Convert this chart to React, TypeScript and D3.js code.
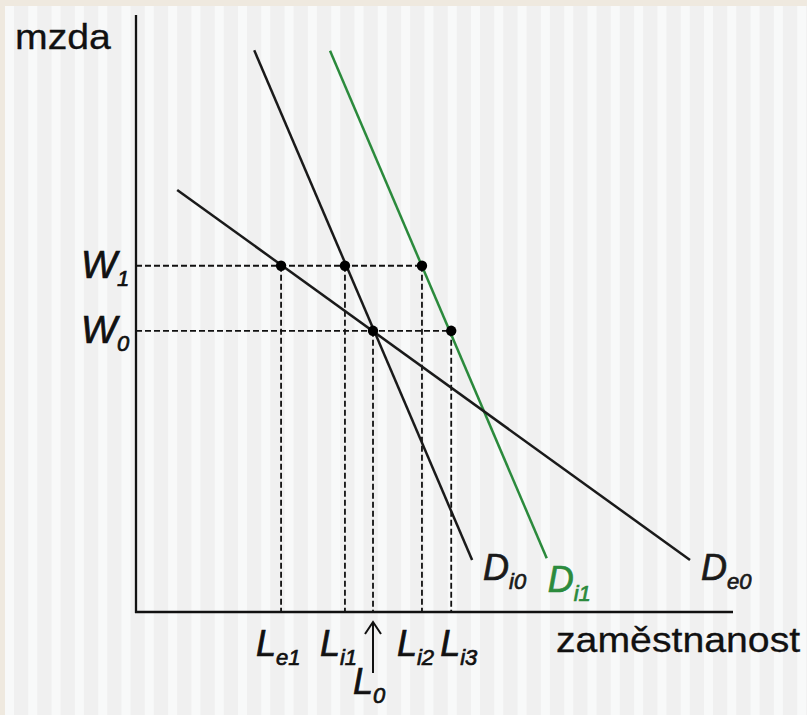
import React from "react";
import * as d3 from "d3";

// ---- data (in chart units: employment 0..100, wage 0..100) ----
const curveNames = ["Di0", "Di1", "De0"];
const curveStartL = [19.8, 32.5, 6.9];
const curveStartW = [94.1, 94.0, 70.7];
const curveEndL = [56.3, 68.8, 92.8];
const curveEndW = [8.7, 9.0, 8.7];

const wageNames = ["1", "0"];
const wageValues = [58.0, 47.1];

const pointNames = ["e1", "i1", "i2", "0", "i3"];
const pointL = [24.3, 35.0, 47.9, 39.7, 52.8];
const pointWageIdx = [0, 0, 0, 1, 1];

const axisTitleY = "mzda";
const axisTitleX = "zaměstnanost";

const W = 807;
const H = 715;
const FONT = "'Liberation Sans', Arial, sans-serif";
const GREEN = "#2b8a3c";

export default function App() {
  const x = d3.scaleLinear().domain([0, 100]).range([136, 733]);
  const y = d3.scaleLinear().domain([0, 100]).range([612, 15]);

  const stripes = d3.range(0, 40).map((i) => 5 + i * 23.3);

  const line = d3
    .line<[number, number]>()
    .x((d) => x(d[0]))
    .y((d) => y(d[1]));

  const curveColors = ["#1a1a1a", GREEN, "#1a1a1a"];
  const curveLabelDx = [11, 1, 11];
  const curveLabelDy = [20, 34, 20];

  const maxLForWage = wageValues.map((_, wi) =>
    d3.max(pointL.filter((_, i) => pointWageIdx[i] === wi)) as number
  );

  const labelDx = [-25, -25, -25, -20, -11];
  const labelDy = [0, 0, 0, 38, 0];

  const italicProps = (color: string) => ({
    fontSize: 36,
    fontStyle: "italic" as const,
    fill: color,
    stroke: color,
    strokeWidth: 0.7,
  });

  return (
    <svg
      width={W}
      height={H}
      style={{ position: "absolute", left: 0, top: 0, display: "block" }}
      fontFamily={FONT}
    >
      <rect x={0} y={0} width={W} height={H} fill="#f0f0f0" />
      {stripes.map((s, i) => (
        <rect key={i} x={s} y={0} width={9} height={H} fill="#f8f9f9" />
      ))}
      <rect x={0} y={0} width={W} height={6} fill="#efe9df" />
      <rect x={0} y={0} width={5} height={H} fill="#efe9df" />

      {/* dashed guides */}
      {wageValues.map((w, wi) => (
        <line
          key={"h" + wi}
          x1={x(0)}
          x2={x(maxLForWage[wi])}
          y1={y(w)}
          y2={y(w)}
          stroke="#111"
          strokeWidth={1.8}
          strokeDasharray="6,3"
        />
      ))}
      {pointL.map((l, i) => (
        <line
          key={"v" + i}
          x1={x(l)}
          x2={x(l)}
          y1={y(wageValues[pointWageIdx[i]])}
          y2={y(0)}
          stroke="#111"
          strokeWidth={1.8}
          strokeDasharray="6,3"
        />
      ))}

      {/* demand curves */}
      {curveNames.map((n, i) => (
        <path
          key={n}
          d={
            line([
              [curveStartL[i], curveStartW[i]],
              [curveEndL[i], curveEndW[i]],
            ]) as string
          }
          stroke={curveColors[i]}
          strokeWidth={2.5}
          fill="none"
        />
      ))}

      {/* axes */}
      <line x1={x(0)} x2={x(0)} y1={y(100)} y2={y(0) + 1} stroke="#111" strokeWidth={2.3} />
      <line x1={x(0) - 1} x2={x(100)} y1={y(0)} y2={y(0)} stroke="#111" strokeWidth={2.3} />

      {/* points */}
      {pointL.map((l, i) => (
        <circle key={"p" + i} cx={x(l)} cy={y(wageValues[pointWageIdx[i]])} r={5.2} fill="#000" />
      ))}

      {/* axis titles */}
      <text
        fontSize={36}
        fill="#111"
        stroke="#111"
        strokeWidth={0.3}
        transform="translate(15,49) scale(1.09,1)"
      >
        {axisTitleY}
      </text>
      <text
        fontSize={36}
        fill="#111"
        stroke="#111"
        strokeWidth={0.3}
        transform="translate(556,652) scale(1.09,1)"
      >
        {axisTitleX}
      </text>

      {/* wage labels */}
      {wageNames.map((n, i) => (
        <text key={"w" + n} x={81} y={y(wageValues[i]) + 12} {...italicProps("#111")} fontSize={38}>
          W
          <tspan fontSize={22} dy={8}>
            {n}
          </tspan>
        </text>
      ))}

      {/* employment labels */}
      {pointNames.map((n, i) => (
        <text
          key={"l" + n}
          x={x(pointL[i]) + labelDx[i]}
          y={656 + labelDy[i]}
          {...italicProps("#111")}
        >
          L
          <tspan fontSize={22} dy={9}>
            {n}
          </tspan>
        </text>
      ))}

      {/* arrow at L0 */}
      <g stroke="#111" strokeWidth={2} fill="none">
        <line x1={x(pointL[3])} x2={x(pointL[3])} y1={673} y2={622} />
        <polyline
          points={`${x(pointL[3]) - 8},${634} ${x(pointL[3])},${622} ${x(pointL[3]) + 8},${634}`}
        />
      </g>

      {/* curve labels */}
      {curveNames.map((n, i) => (
        <text
          key={"c" + n}
          x={x(curveEndL[i]) + curveLabelDx[i]}
          y={y(curveEndW[i]) + curveLabelDy[i]}
          {...italicProps(curveColors[i])}
        >
          D
          <tspan fontSize={22} dy={9}>
            {n.slice(1)}
          </tspan>
        </text>
      ))}
    </svg>
  );
}
